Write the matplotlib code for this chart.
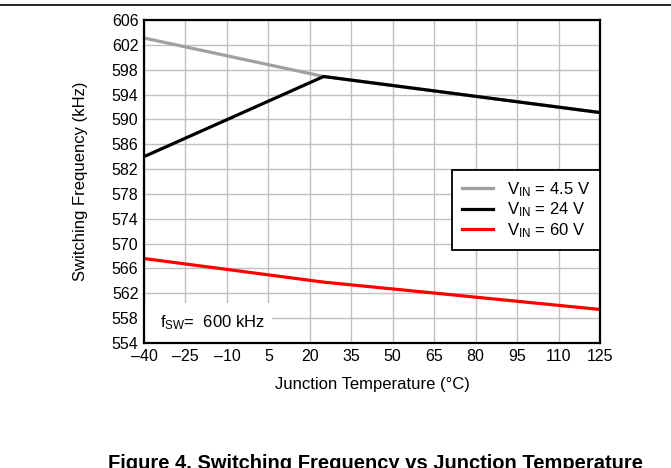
import matplotlib
matplotlib.use("Agg")
import matplotlib.pyplot as plt
from matplotlib.lines import Line2D
from matplotlib.patches import Rectangle

matplotlib.rcParams['font.family'] = ['Liberation Sans', 'DejaVu Sans']
matplotlib.rcParams['mathtext.default'] = 'regular'

# data
temps = [-40, 25, 125]
f_4v5 = [603.1, 596.9, 591.1]
f_24v = [584.0, 596.9, 591.1]
f_60v = [567.6, 563.8, 559.4]

x_ticks = [-40, -25, -10, 5, 20, 35, 50, 65, 80, 95, 110, 125]
y_ticks = list(range(554, 607, 4))

fig = plt.figure(figsize=(6.71, 4.68), dpi=100)
ax = fig.add_axes([0.2146, 0.2671, 0.6796, 0.6902])

ax.plot(temps, f_4v5, color='#a0a0a0', lw=2.3, label=r'V$_{IN}$ = 4.5 V', zorder=3)
ax.plot(temps, f_24v, color='black', lw=2.3, label=r'V$_{IN}$ = 24 V', zorder=4)
ax.plot(temps, f_60v, color='#ff0000', lw=2.3, label=r'V$_{IN}$ = 60 V', zorder=4)

ax.set_xlim(-40, 125)
ax.set_ylim(554, 606)
ax.set_xticks(x_ticks)
ax.set_xticklabels([str(t).replace('-', '\u2013') for t in x_ticks])
ax.set_yticks(y_ticks)
ax.tick_params(length=0, labelsize=11.5, pad=4)
ax.grid(True, color='#c0c0c0', lw=1.0, zorder=0)
ax.set_axisbelow(True)
for s in ax.spines.values():
    s.set_linewidth(1.6)
    s.set_zorder(6)

ax.set_xlabel('Junction Temperature (°C)', fontsize=12, labelpad=10)
ax.set_ylabel('Switching Frequency (kHz)', fontsize=12, labelpad=17)

# white patch behind the annotation so the grid breaks
ax.add_patch(Rectangle((0, 0), 0.28, 0.124, transform=ax.transAxes,
                       facecolor='white', edgecolor='none', zorder=2))
ax.text(0.035, 0.062, r'f$_{SW}$=  600 kHz', transform=ax.transAxes,
        fontsize=12, va='center', ha='left', zorder=5)

leg = ax.legend(loc='upper right', bbox_to_anchor=(1.0, 0.536), borderaxespad=0,
                fontsize=12, fancybox=False, framealpha=1, edgecolor='black',
                handlelength=1.85, handletextpad=0.85, labelspacing=0.12,
                borderpad=0.6)
leg.get_frame().set_linewidth(1.3)
leg.set_zorder(7)

fig.add_artist(Line2D([0, 1], [0.989, 0.989], color='black', lw=1.2))
fig.text(0.559, -0.002, 'Figure 4. Switching Frequency vs Junction Temperature',
         fontsize=14.5, fontweight='bold', ha='center', va='baseline')

fig.savefig('out.png', dpi=100)
